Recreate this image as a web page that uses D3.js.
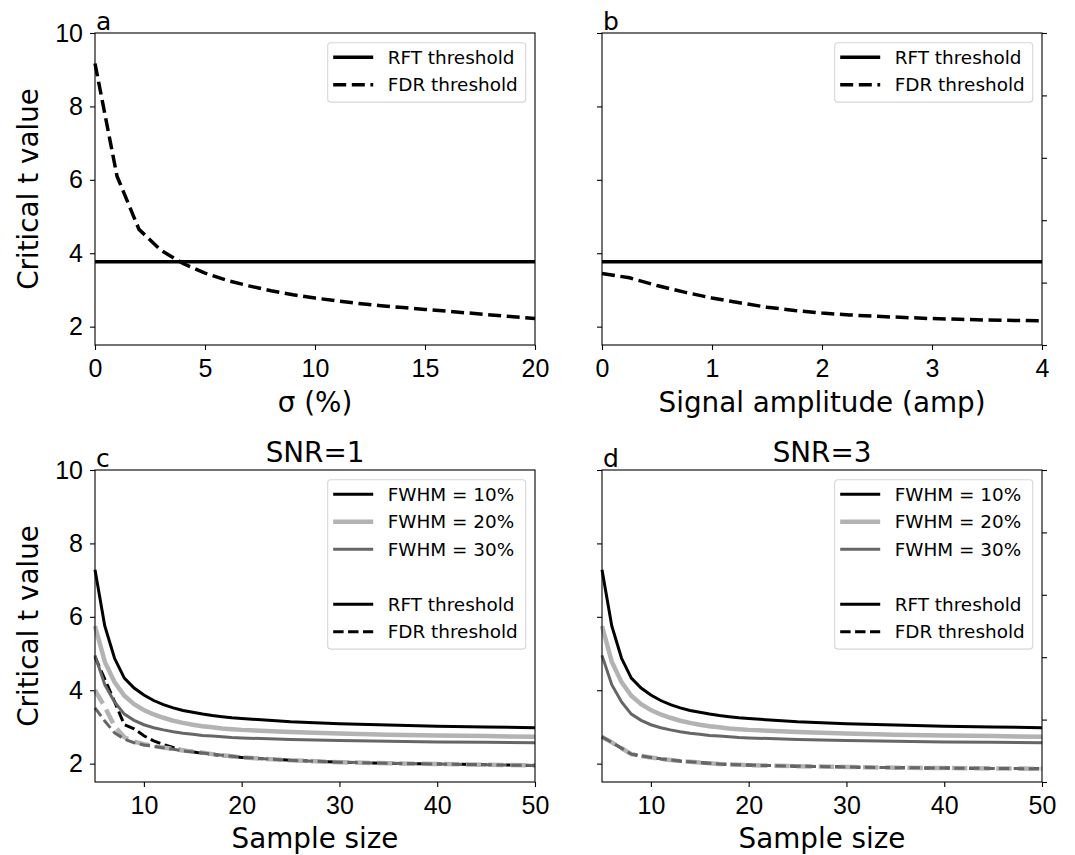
<!DOCTYPE html>
<html>
<head>
<meta charset="utf-8">
<script src="https://cdn.jsdelivr.net/npm/d3@7"></script>
<style>
  body { margin: 0; background: #fff; }
  svg { font-family: "DejaVu Sans", sans-serif; }
</style>
</head>
<body>
<svg id="chart" width="1075" height="855"></svg>
<script>
// ---- panel a: FDR threshold vs smoothing sigma (%)
const sigmaPct = [0, 1, 2, 3, 4, 5, 6, 7, 8, 9, 10, 11, 12, 13, 14, 15, 16, 17, 18, 19, 20];
const fdrSigma = [9.17, 6.1, 4.65, 4.08, 3.72, 3.46, 3.26, 3.11, 2.98, 2.87, 2.78, 2.7, 2.63, 2.57, 2.52, 2.47, 2.42, 2.37, 2.32, 2.27, 2.22];
const rftSigma = 3.77;

// ---- panel b: FDR threshold vs signal amplitude
const ampVals = [0, 0.25, 0.5, 0.75, 1, 1.25, 1.5, 1.75, 2, 2.25, 2.5, 2.75, 3, 3.25, 3.5, 3.75, 4];
const fdrAmp = [3.45, 3.33, 3.12, 2.94, 2.78, 2.65, 2.53, 2.44, 2.37, 2.32, 2.28, 2.25, 2.22, 2.2, 2.18, 2.17, 2.16];
const rftAmp = 3.77;

// ---- panels c, d: thresholds vs sample size
const sampleSize = [5, 6, 7, 8, 9, 10, 11, 12, 13, 14, 15, 16, 17, 18, 19, 20, 25, 30, 35, 40, 45, 50];
const rftFwhm10 = [7.28, 5.75, 4.87, 4.33, 4.06, 3.87, 3.72, 3.61, 3.52, 3.45, 3.4, 3.35, 3.31, 3.28, 3.25, 3.23, 3.14, 3.09, 3.05, 3.02, 3.0, 2.98];
const rftFwhm20 = [5.75, 4.78, 4.22, 3.85, 3.62, 3.46, 3.34, 3.25, 3.17, 3.11, 3.06, 3.02, 2.99, 2.96, 2.94, 2.92, 2.86, 2.82, 2.79, 2.77, 2.75, 2.73];
const rftFwhm30 = [4.95, 4.15, 3.68, 3.35, 3.18, 3.06, 2.98, 2.92, 2.87, 2.83, 2.8, 2.77, 2.75, 2.73, 2.71, 2.7, 2.66, 2.63, 2.61, 2.59, 2.58, 2.57];

const fdrSnr1Fwhm10 = [4.91, 4.3, 3.69, 3.06, 2.95, 2.76, 2.62, 2.52, 2.44, 2.37, 2.32, 2.28, 2.25, 2.22, 2.19, 2.17, 2.09, 2.04, 2.01, 1.99, 1.97, 1.95];
const fdrSnr1Fwhm20 = [4.0, 3.55, 3.02, 2.72, 2.6, 2.53, 2.48, 2.44, 2.4, 2.36, 2.33, 2.3, 2.26, 2.23, 2.2, 2.17, 2.09, 2.04, 2.01, 1.99, 1.97, 1.95];
const fdrSnr1Fwhm30 = [3.52, 3.16, 2.84, 2.67, 2.57, 2.51, 2.47, 2.43, 2.39, 2.35, 2.32, 2.29, 2.26, 2.23, 2.2, 2.17, 2.09, 2.04, 2.01, 1.99, 1.97, 1.95];

const fdrSnr3Fwhm10 = [2.73, 2.58, 2.42, 2.26, 2.21, 2.17, 2.13, 2.1, 2.07, 2.05, 2.03, 2.01, 1.99, 1.98, 1.97, 1.96, 1.93, 1.91, 1.89, 1.88, 1.87, 1.86];
const fdrSnr3Fwhm20 = [2.73, 2.58, 2.42, 2.26, 2.21, 2.17, 2.13, 2.1, 2.07, 2.05, 2.03, 2.01, 1.99, 1.98, 1.97, 1.96, 1.93, 1.91, 1.89, 1.88, 1.87, 1.86];
const fdrSnr3Fwhm30 = [2.73, 2.58, 2.42, 2.26, 2.21, 2.17, 2.13, 2.1, 2.07, 2.05, 2.03, 2.01, 1.99, 1.98, 1.97, 1.96, 1.93, 1.91, 1.89, 1.88, 1.87, 1.86];

const yTicks = [2, 4, 6, 8, 10];
const twinTicks = [0, 0.2, 0.4, 0.6, 0.8, 1.0];
const fwhmLabels = ["FWHM = 10%", "FWHM = 20%", "FWHM = 30%"];

const BLACK = "#000", LIGHT = "#b3b3b3", DARK = "#666666";

const svg = d3.select("#chart");

const panels = {
  a: { x0: 95, x1: 535, y0: 33, y1: 345 },
  b: { x0: 602, x1: 1042, y0: 33, y1: 345 },
  c: { x0: 95, x1: 535, y0: 470, y1: 782 },
  d: { x0: 602, x1: 1042, y0: 470, y1: 782 }
};

function setupPanel(p, xDomain, xTicks, opts) {
  const x = d3.scaleLinear().domain(xDomain).range([p.x0, p.x1]);
  const y = d3.scaleLinear().domain([1.5, 10]).range([p.y1, p.y0]);
  const g = svg.append("g");

  const xa = g.append("g")
    .attr("transform", `translate(0,${p.y1})`)
    .call(d3.axisBottom(x).tickValues(xTicks).tickSize(5).tickSizeOuter(0).tickPadding(9)
      .tickFormat(d3.format("~g")));
  const ya = g.append("g")
    .attr("transform", `translate(${p.x0},0)`)
    .call(d3.axisLeft(y).tickValues(yTicks).tickSize(5).tickSizeOuter(0).tickPadding(7)
      .tickFormat(opts.yLabels ? d3.format("d") : ""));
  [xa, ya].forEach(a => {
    a.select(".domain").remove();
    a.selectAll(".tick line").attr("stroke", "#000").attr("stroke-width", 1.1);
    a.selectAll(".tick text").attr("fill", "#000").style("font-size", "25px");
  });

  if (opts.twin) {
    const t = d3.scaleLinear().domain([0, 1]).range([p.y1, p.y0]);
    const ta = g.append("g")
      .attr("transform", `translate(${p.x1},0)`)
      .call(d3.axisRight(t).tickValues(twinTicks).tickSize(5).tickSizeOuter(0).tickFormat(""));
    ta.select(".domain").remove();
    ta.selectAll(".tick line").attr("stroke", "#000").attr("stroke-width", 1.1);
  }

  const plot = g.append("g");

  g.append("rect")
    .attr("x", p.x0).attr("y", p.y0)
    .attr("width", p.x1 - p.x0).attr("height", p.y1 - p.y0)
    .attr("fill", "none").attr("stroke", "#000").attr("stroke-width", 1.1);

  return { x, y, g, plot };
}

function drawLine(ctx, xs, ys, color, width, dash) {
  const line = d3.line().x(d => ctx.x(d[0])).y(d => ctx.y(d[1]));
  ctx.plot.append("path")
    .datum(d3.zip(xs, ys))
    .attr("d", line)
    .attr("fill", "none")
    .attr("stroke", color)
    .attr("stroke-width", width)
    .attr("stroke-dasharray", dash || null);
}

function drawHLine(ctx, val, color, width) {
  const [a, b] = ctx.x.domain();
  drawLine(ctx, [a, b], [val, val], color, width);
}

function drawLegend(ctx, p, entries) {
  const boxW = 198;
  const left = p.x1 - 9.3 - boxW;
  const top = p.y0 + 9.7;
  const h = 14.6 + (entries.length - 1) * 27.5 + 17.3;
  const lg = ctx.g.append("g");
  lg.append("rect")
    .attr("x", left).attr("y", top).attr("width", boxW).attr("height", h)
    .attr("rx", 3).attr("fill", "#fff").attr("fill-opacity", 0.8)
    .attr("stroke", "#d6d6d6").attr("stroke-width", 1.1);
  entries.forEach((e, i) => {
    if (!e) return;
    const cy = top + 14.6 + i * 27.5;
    lg.append("line")
      .attr("x1", left + 5.5).attr("x2", left + 45.5)
      .attr("y1", cy).attr("y2", cy)
      .attr("stroke", e.color).attr("stroke-width", e.width)
      .attr("stroke-dasharray", e.dash || null);
    lg.append("text")
      .attr("x", left + 60).attr("y", cy).attr("dy", "0.36em")
      .style("font-size", "18.4px").text(e.label);
  });
}

function yLabel(p) {
  svg.append("text")
    .attr("transform", `translate(38,${(p.y0 + p.y1) / 2}) rotate(-90)`)
    .attr("text-anchor", "middle")
    .style("font-size", "27.8px")
    .text("Critical t value");
}

function xLabel(p, txt, baseline) {
  svg.append("text")
    .attr("x", (p.x0 + p.x1) / 2).attr("y", baseline)
    .attr("text-anchor", "middle")
    .style("font-size", "27.8px")
    .text(txt);
}

function letter(p, txt) {
  svg.append("text")
    .attr("x", p.x0 + 1).attr("y", p.y0 - 3)
    .style("font-size", "25px")
    .text(txt);
}

function title(p, txt) {
  svg.append("text")
    .attr("x", (p.x0 + p.x1) / 2).attr("y", p.y0 - 8)
    .attr("text-anchor", "middle")
    .style("font-size", "27.8px")
    .text(txt);
}

// ---------- panel a
const A = setupPanel(panels.a, [0, 20], [0, 5, 10, 15, 20], { yLabels: true });
drawHLine(A, rftSigma, BLACK, 3.5);
drawLine(A, sigmaPct, fdrSigma, BLACK, 3.5, "13,5.6");
drawLegend(A, panels.a, [
  { label: "RFT threshold", color: BLACK, width: 3.5 },
  { label: "FDR threshold", color: BLACK, width: 3.5, dash: "13,5.6" }
]);
yLabel(panels.a);
xLabel(panels.a, "σ (%)", 412);
letter(panels.a, "a");

// ---------- panel b
const B = setupPanel(panels.b, [0, 4], [0, 1, 2, 3, 4], { yLabels: false, twin: true });
drawHLine(B, rftAmp, BLACK, 3.5);
drawLine(B, ampVals, fdrAmp, BLACK, 3.5, "13,5.6");
drawLegend(B, panels.b, [
  { label: "RFT threshold", color: BLACK, width: 3.5 },
  { label: "FDR threshold", color: BLACK, width: 3.5, dash: "13,5.6" }
]);
xLabel(panels.b, "Signal amplitude (amp)", 412);
letter(panels.b, "b");

// ---------- panels c and d
const styles = [
  { color: BLACK, width: 3, dash: "10.4,4.5" },
  { color: LIGHT, width: 4.5, dash: "15.5,6.7" },
  { color: DARK, width: 3, dash: "10.4,4.5" }
];
const legendEntries = [
  { label: fwhmLabels[0], color: BLACK, width: 3 },
  { label: fwhmLabels[1], color: LIGHT, width: 4.5 },
  { label: fwhmLabels[2], color: DARK, width: 3 },
  null,
  { label: "RFT threshold", color: BLACK, width: 3 },
  { label: "FDR threshold", color: BLACK, width: 3, dash: "10.4,4.5" }
];

function bottomPanel(key, rft, fdr, snr, showY) {
  const p = panels[key];
  const C = setupPanel(p, [5, 50], [10, 20, 30, 40, 50], { yLabels: showY, twin: !showY });
  styles.forEach((s, i) => {
    drawLine(C, sampleSize, rft[i], s.color, s.width);
    drawLine(C, sampleSize, fdr[i], s.color, s.width, s.dash);
  });
  drawLegend(C, p, legendEntries);
  if (showY) yLabel(p);
  xLabel(p, "Sample size", 848);
  letter(p, key);
  title(p, snr);
}

bottomPanel("c", [rftFwhm10, rftFwhm20, rftFwhm30], [fdrSnr1Fwhm10, fdrSnr1Fwhm20, fdrSnr1Fwhm30], "SNR=1", true);
bottomPanel("d", [rftFwhm10, rftFwhm20, rftFwhm30], [fdrSnr3Fwhm10, fdrSnr3Fwhm20, fdrSnr3Fwhm30], "SNR=3", false);
</script>
</body>
</html>
